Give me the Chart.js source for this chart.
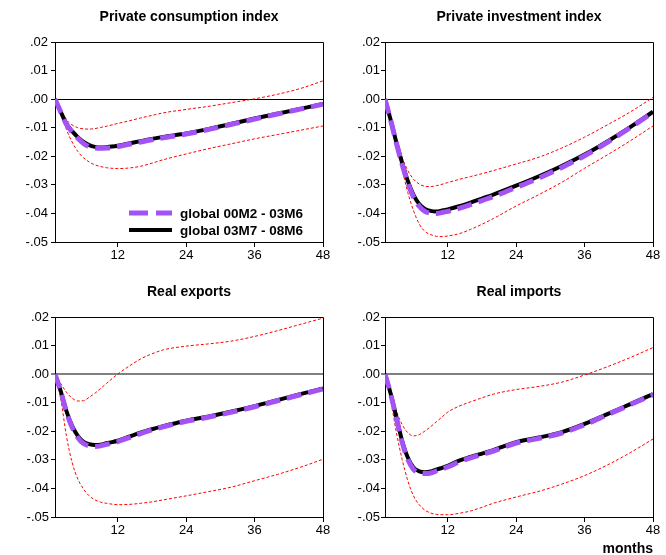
<!DOCTYPE html>
<html>
<head>
<meta charset="utf-8">
<title>Impulse responses</title>
<script src="https://cdn.jsdelivr.net/npm/chart.js@4.4.1/dist/chart.umd.min.js"></script>
<style>
  body { margin: 0; background: #fff; }
  #wrap { position: relative; width: 666px; height: 555px; overflow: hidden; }
  canvas { position: absolute; }
</style>
</head>
<body>
<div id="wrap">
  <canvas id="c1" width="333" height="275" style="left:0;top:0"></canvas>
  <canvas id="c2" width="333" height="275" style="left:333px;top:0"></canvas>
  <canvas id="c3" width="333" height="280" style="left:0;top:275px"></canvas>
  <canvas id="c4" width="333" height="280" style="left:333px;top:275px"></canvas>
</div>
<script>
// months after the shock
const months = [1, 2, 3, 4, 5, 6, 7, 8, 9, 10, 11, 12, 14, 16, 18, 20, 24, 28, 32, 36, 40, 44, 48];
const xTicks = [12, 24, 36, 48];
const legendLabels = ["global 00M2 - 03M6", "global 03M7 - 08M6"];
const titles = ["Private consumption index", "Private investment index", "Real exports", "Real imports"];

// early = 00M2-03M6 sample, late = 03M7-08M6 sample, upper/lower = error bands
const consumptionEarly = [0, -0.0045, -0.0088, -0.0115, -0.0137, -0.0155, -0.0166, -0.0171, -0.0172, -0.0171, -0.0169, -0.0166, -0.0158, -0.0150, -0.0142, -0.0135, -0.0122, -0.0106, -0.0088, -0.0070, -0.0052, -0.0035, -0.0018];
const consumptionLate = [0, -0.0044, -0.0086, -0.0112, -0.0133, -0.0150, -0.0161, -0.0167, -0.0169, -0.0168, -0.0166, -0.0163, -0.0155, -0.0147, -0.0139, -0.0132, -0.0120, -0.0104, -0.0086, -0.0068, -0.0051, -0.0034, -0.0017];
const consumptionUpper = [0, -0.0035, -0.0072, -0.0090, -0.0100, -0.0104, -0.0105, -0.0103, -0.0099, -0.0095, -0.0090, -0.0085, -0.0076, -0.0066, -0.0057, -0.0048, -0.0036, -0.0025, -0.0012, 0.0001, 0.0017, 0.0037, 0.0064];
const consumptionLower = [0, -0.0052, -0.0106, -0.0150, -0.0183, -0.0205, -0.0220, -0.0230, -0.0236, -0.0240, -0.0242, -0.0243, -0.0241, -0.0235, -0.0224, -0.0212, -0.0192, -0.0173, -0.0156, -0.0139, -0.0124, -0.0109, -0.0094];

const investmentEarly = [0, -0.0074, -0.0155, -0.0228, -0.0293, -0.0343, -0.0375, -0.0393, -0.0399, -0.0400, -0.0397, -0.0393, -0.0382, -0.0369, -0.0355, -0.0341, -0.0309, -0.0276, -0.0239, -0.0198, -0.0151, -0.0100, -0.0046];
const investmentLate = [0, -0.0073, -0.0152, -0.0222, -0.0286, -0.0335, -0.0367, -0.0384, -0.0391, -0.0393, -0.0390, -0.0386, -0.0375, -0.0362, -0.0348, -0.0334, -0.0303, -0.0270, -0.0234, -0.0194, -0.0148, -0.0098, -0.0044];
const investmentUpper = [0, -0.0071, -0.0147, -0.0205, -0.0250, -0.0280, -0.0297, -0.0305, -0.0306, -0.0303, -0.0298, -0.0292, -0.0281, -0.0271, -0.0261, -0.0250, -0.0227, -0.0203, -0.0171, -0.0133, -0.0090, -0.0045, 0.0006];
const investmentLower = [0, -0.0076, -0.0170, -0.0245, -0.0327, -0.0390, -0.0437, -0.0463, -0.0474, -0.0480, -0.0481, -0.0479, -0.0471, -0.0456, -0.0438, -0.0418, -0.0374, -0.0334, -0.0291, -0.0242, -0.0195, -0.0146, -0.0094];

const exportsEarly = [0, -0.0060, -0.0132, -0.0186, -0.0222, -0.0243, -0.0251, -0.0253, -0.0251, -0.0246, -0.0241, -0.0236, -0.0222, -0.0208, -0.0195, -0.0184, -0.0165, -0.0150, -0.0133, -0.0114, -0.0093, -0.0072, -0.0052];
const exportsLate = [0, -0.0059, -0.0129, -0.0181, -0.0216, -0.0237, -0.0245, -0.0248, -0.0247, -0.0242, -0.0238, -0.0233, -0.0219, -0.0205, -0.0193, -0.0182, -0.0163, -0.0148, -0.0131, -0.0112, -0.0091, -0.0070, -0.0050];
const exportsUpper = [0, -0.0033, -0.0063, -0.0084, -0.0094, -0.0093, -0.0081, -0.0067, -0.0050, -0.0033, -0.0016, 0.0000, 0.0028, 0.0053, 0.0071, 0.0085, 0.0098, 0.0106, 0.0116, 0.0132, 0.0152, 0.0174, 0.0196];
const exportsLower = [0, -0.0085, -0.0216, -0.0309, -0.0367, -0.0402, -0.0426, -0.0440, -0.0448, -0.0452, -0.0455, -0.0457, -0.0456, -0.0452, -0.0447, -0.0440, -0.0426, -0.0411, -0.0395, -0.0373, -0.0351, -0.0326, -0.0298];

const importsEarly = [0, -0.0070, -0.0155, -0.0238, -0.0298, -0.0333, -0.0346, -0.0348, -0.0346, -0.0339, -0.0332, -0.0325, -0.0307, -0.0293, -0.0281, -0.0269, -0.0241, -0.0225, -0.0206, -0.0177, -0.0142, -0.0107, -0.0072];
const importsLate = [0, -0.0069, -0.0152, -0.0233, -0.0292, -0.0327, -0.0340, -0.0343, -0.0341, -0.0334, -0.0328, -0.0321, -0.0303, -0.0290, -0.0278, -0.0266, -0.0238, -0.0222, -0.0203, -0.0174, -0.0140, -0.0105, -0.0070];
const importsUpper = [0, -0.0059, -0.0129, -0.0176, -0.0205, -0.0216, -0.0212, -0.0199, -0.0184, -0.0167, -0.0150, -0.0133, -0.0112, -0.0097, -0.0083, -0.0070, -0.0054, -0.0043, -0.0028, -0.0003, 0.0026, 0.0058, 0.0093];
const importsLower = [0, -0.0091, -0.0205, -0.0298, -0.0373, -0.0426, -0.0457, -0.0476, -0.0486, -0.0491, -0.0492, -0.0492, -0.0487, -0.0479, -0.0466, -0.0452, -0.0430, -0.0410, -0.0385, -0.0355, -0.0318, -0.0275, -0.0227];

const FONT = '"Liberation Sans", Arial, sans-serif';
const PURPLE = "#a352f5";
Chart.defaults.font.family = FONT;
Chart.defaults.color = "#000";

// top and right edges of the plot box (axes draw left and bottom)
const boxPlugin = {
  id: "box",
  afterDraw: (chart) => {
    const { ctx, chartArea: a } = chart;
    ctx.save();
    ctx.strokeStyle = "#000";
    ctx.lineWidth = 1;
    ctx.beginPath();
    ctx.moveTo(a.left, Math.round(a.top) + 0.5);
    ctx.lineTo(Math.round(a.right) + 0.5, Math.round(a.top) + 0.5);
    ctx.lineTo(Math.round(a.right) + 0.5, a.bottom);
    ctx.stroke();
    ctx.restore();
  },
};

// legend sits inside the first panel, bottom right
const legendPlugin = {
  id: "insideLegend",
  afterDraw: (chart) => {
    const { ctx, chartArea: a } = chart;
    const x0 = a.left + 74;
    const x1 = x0 + 43;
    const tx = a.left + 125;
    let y = a.top + 171;
    chart.data.datasets.slice(0, 2).forEach((ds, i) => {
      ctx.save();
      ctx.strokeStyle = ds.borderColor;
      ctx.lineWidth = ds.borderWidth;
      ctx.setLineDash(i === 0 ? [19, 8] : []);
      ctx.beginPath();
      ctx.moveTo(x0, y);
      ctx.lineTo(x1, y);
      ctx.stroke();
      ctx.setLineDash([]);
      ctx.fillStyle = "#000";
      ctx.font = "bold 13.5px " + FONT;
      ctx.textBaseline = "middle";
      ctx.fillText(ds.label, tx, y + 1);
      ctx.restore();
      y += 17;
    });
  },
};

function fmtTick(v) {
  if (Math.abs(v) < 1e-9) return ".00";
  const s = Math.abs(v).toFixed(2).replace(/^0/, "");
  return (v < 0 ? "-" : "") + s;
}

function makePanel(id, title, early, late, upper, lower, cfg) {
  const pts = (arr) => months.map((m, i) => ({ x: m, y: arr[i] }));
  const band = (arr) => ({
    label: "band",
    data: pts(arr),
    borderColor: "#ff0000",
    borderWidth: 1,
    borderDash: [3, 2],
    pointRadius: 0,
    cubicInterpolationMode: "monotone",
  });
  const plugins = [boxPlugin];
  if (cfg.legend) plugins.push(legendPlugin);

  new Chart(document.getElementById(id), {
    type: "line",
    plugins: plugins,
    data: {
      datasets: [
        {
          label: legendLabels[0],
          data: pts(early),
          borderColor: PURPLE,
          borderWidth: 5,
          borderDash: [15, 7],
          pointRadius: 0,
          cubicInterpolationMode: "monotone",
        },
        {
          label: legendLabels[1],
          data: pts(late),
          borderColor: "#000",
          borderWidth: 4,
          pointRadius: 0,
          cubicInterpolationMode: "monotone",
        },
        band(upper),
        band(lower),
      ],
    },
    options: {
      responsive: false,
      animation: false,
      devicePixelRatio: 1,
      layout: { padding: { left: 0, right: cfg.padRight, top: 0, bottom: 0 } },
      plugins: {
        legend: { display: false },
        tooltip: { enabled: false },
        title: {
          display: true,
          text: title,
          fullSize: false,
          color: "#000",
          font: { size: 14, weight: "bold" },
          padding: { top: 8.6, bottom: 16.6 },
        },
      },
      scales: {
        x: {
          type: "linear",
          min: 1,
          max: 48,
          afterFit: (s) => { s.height = cfg.xHeight; },
          afterBuildTicks: (s) => { s.ticks = xTicks.map((v) => ({ value: v })); },
          ticks: { font: { size: 13 }, padding: 1, maxRotation: 0, color: "#000" },
          grid: { drawOnChartArea: false, tickLength: 5, tickColor: "#000", tickWidth: 1 },
          border: { display: true, color: "#000", width: 1 },
          title: {
            display: !!cfg.months,
            text: "months",
            align: "end",
            color: "#000",
            font: { size: 14, weight: "bold", lineHeight: 0.8 },
            padding: 0,
          },
        },
        y: {
          min: -0.05,
          max: 0.02,
          afterFit: (s) => { s.width = cfg.yWidth; },
          ticks: { stepSize: 0.01, font: { size: 13 }, padding: cfg.tickPad, color: "#000", callback: fmtTick },
          grid: {
            drawOnChartArea: true,
            tickLength: 4,
            tickColor: "#000",
            tickWidth: 1,
            color: (c) => (Math.abs(c.tick.value) < 1e-9 ? cfg.zeroColor : "rgba(0,0,0,0)"),
            lineWidth: (c) => (Math.abs(c.tick.value) < 1e-9 ? cfg.zeroWidth : 1),
          },
          border: { display: true, color: "#000", width: 1 },
        },
      },
    },
  });
}

makePanel("c1", titles[0], consumptionEarly, consumptionLate, consumptionUpper, consumptionLower,
  { yWidth: 55, padRight: 10, xHeight: 33, tickPad: 3, zeroColor: "#000", zeroWidth: 1, legend: true });
makePanel("c2", titles[1], investmentEarly, investmentLate, investmentUpper, investmentLower,
  { yWidth: 52, padRight: 13, xHeight: 33, tickPad: 1, zeroColor: "#000", zeroWidth: 1 });
makePanel("c3", titles[2], exportsEarly, exportsLate, exportsUpper, exportsLower,
  { yWidth: 55, padRight: 10, xHeight: 38, tickPad: 2, zeroColor: "#808080", zeroWidth: 2 });
makePanel("c4", titles[3], importsEarly, importsLate, importsUpper, importsLower,
  { yWidth: 52, padRight: 13, xHeight: 38, tickPad: 1, zeroColor: "#808080", zeroWidth: 2, months: true });
</script>
</body>
</html>
